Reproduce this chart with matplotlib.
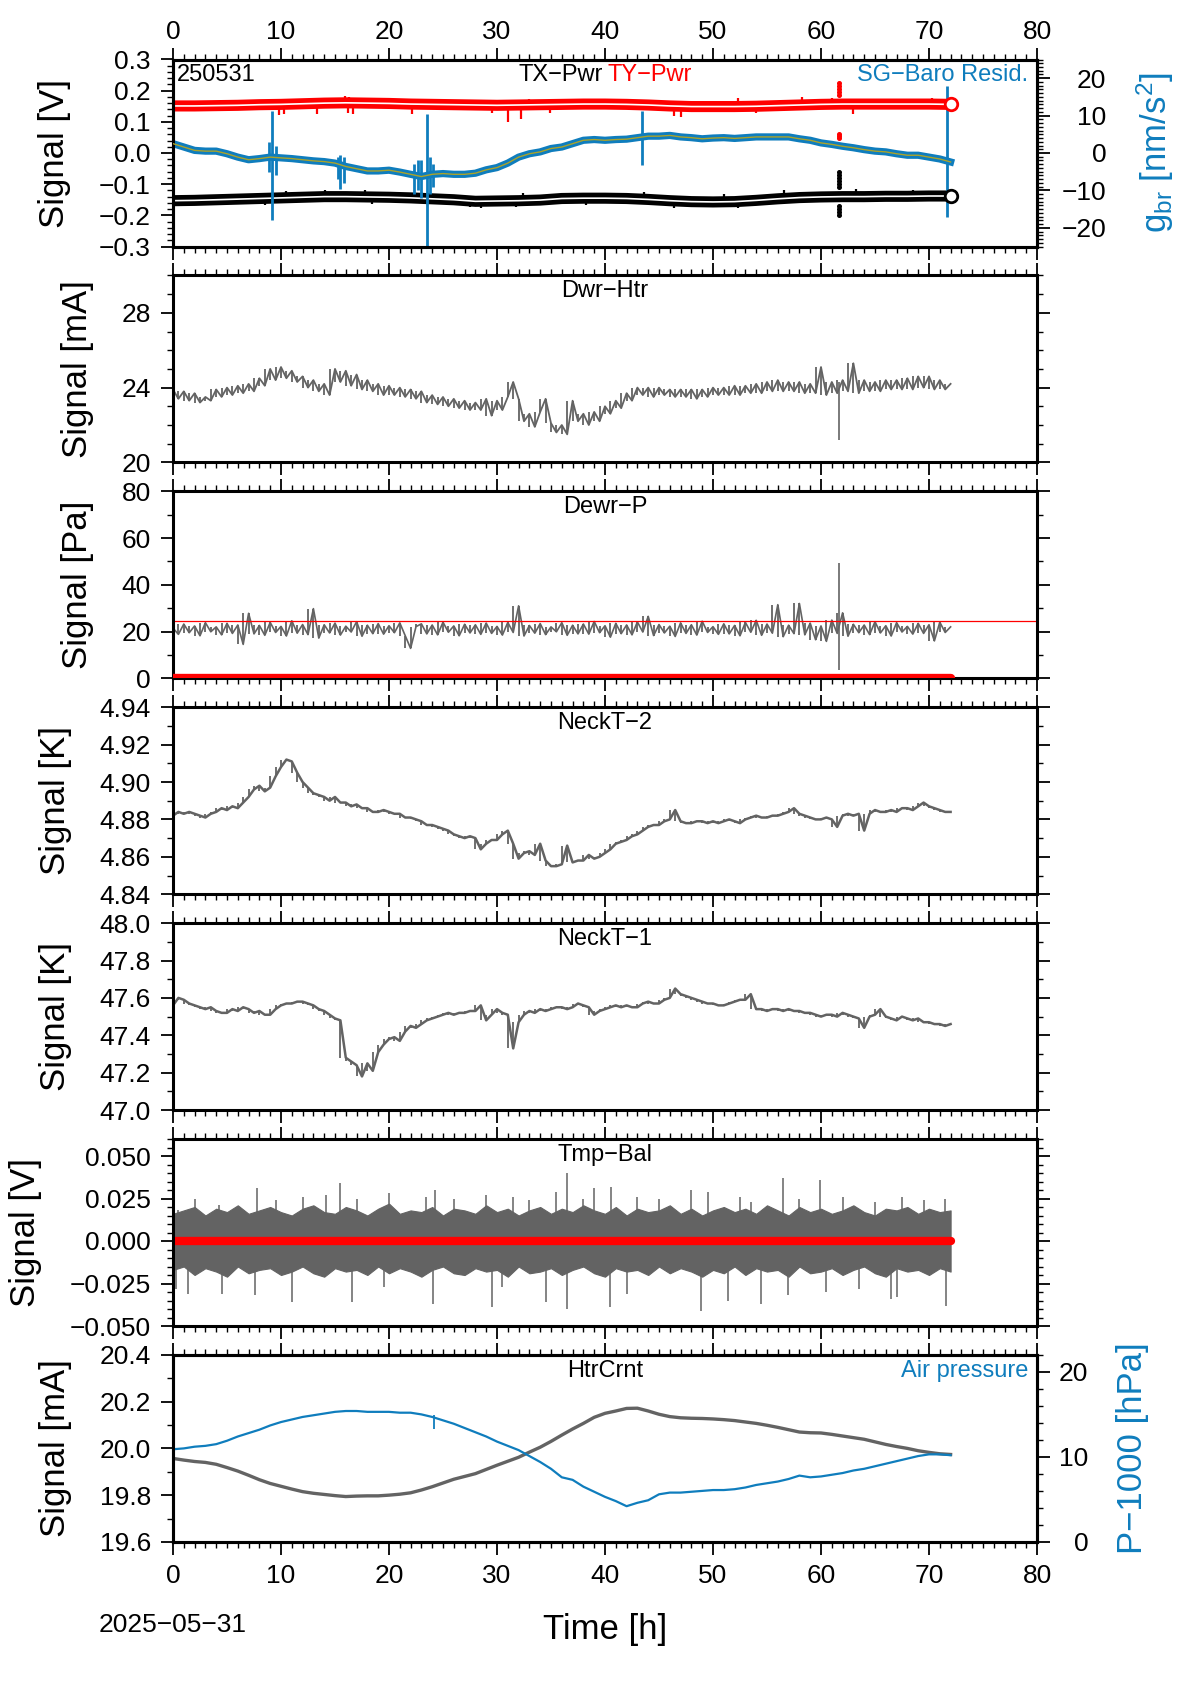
import numpy as np
import matplotlib
matplotlib.use("Agg")
import matplotlib.pyplot as plt
from matplotlib.ticker import MultipleLocator, FuncFormatter

plt.rcParams['font.family'] = ['Liberation Sans', 'DejaVu Sans']
plt.rcParams['mathtext.fontset'] = 'custom'
plt.rcParams['mathtext.rm'] = 'Liberation Sans'
plt.rcParams['mathtext.it'] = 'Liberation Sans:italic'
plt.rcParams['axes.unicode_minus'] = True

# ---------------- data ----------------
run_id = "250531"
date_label = "2025\u221205\u221231"
t_end = 72.0

# Panel 1: TX-Pwr (black), TY-Pwr (red) [V], 2 h steps
typwr = [0.151, 0.151, 0.152, 0.153, 0.155, 0.156, 0.158, 0.160, 0.161, 0.160,
         0.159, 0.157, 0.156, 0.155, 0.154, 0.153, 0.154, 0.155, 0.156, 0.157,
         0.157, 0.156, 0.154, 0.151, 0.149, 0.149, 0.149, 0.150, 0.152, 0.154,
         0.156, 0.157, 0.157, 0.157, 0.157, 0.157, 0.156]
txpwr = [-0.153, -0.152, -0.150, -0.148, -0.146, -0.144, -0.142, -0.140, -0.140, -0.141,
         -0.142, -0.144, -0.147, -0.150, -0.155, -0.154, -0.153, -0.151, -0.146, -0.145,
         -0.145, -0.146, -0.149, -0.153, -0.156, -0.157, -0.156, -0.152, -0.147, -0.143,
         -0.141, -0.140, -0.140, -0.139, -0.139, -0.138, -0.138]
red_spk_t = [9.8, 10.3, 13.3, 16.2, 16.7, 22.1, 29.5, 31.0, 32.2, 34.9, 46.4, 47.0, 54.0, 63.0,
             15.9, 16.3, 25.0, 33.0, 52.3, 58.2, 61.0, 65.4, 70.3]
red_spk_a = [0.145, 0.145, 0.145, 0.150, 0.150, 0.145, 0.145, 0.145, 0.145, 0.148, 0.142, 0.142, 0.143, 0.150,
             0.165, 0.165, 0.160, 0.160, 0.158, 0.162, 0.162, 0.162, 0.162]
red_spk_b = [0.122, 0.125, 0.124, 0.128, 0.125, 0.126, 0.128, 0.100, 0.110, 0.128, 0.118, 0.115, 0.127, 0.125,
             0.182, 0.180, 0.172, 0.174, 0.178, 0.180, 0.176, 0.174, 0.176]
blk_spk_t = [10.5, 14.1, 17.8, 32.4, 43.6, 51.0, 56.6, 63.2, 68.5,
             8.5, 18.4, 27.5, 28.5, 31.8, 38.2, 46.4, 52.3]
blk_spk_a = [-0.140, -0.138, -0.138, -0.148, -0.142, -0.150, -0.140, -0.135, -0.135,
             -0.150, -0.148, -0.155, -0.158, -0.158, -0.150, -0.157, -0.160]
blk_spk_b = [-0.122, -0.118, -0.120, -0.128, -0.125, -0.130, -0.118, -0.115, -0.118,
             -0.168, -0.165, -0.172, -0.175, -0.172, -0.168, -0.176, -0.178]
dot_t = 61.7
red_dots = [0.185, 0.195, 0.205, 0.215, 0.225, 0.048, 0.055, 0.062]
blk_dots = [-0.06, -0.07, -0.08, -0.09, -0.10, -0.11, -0.17, -0.18, -0.19, -0.20]

# SG-Baro residual [nm/s^2], hourly
sg_resid = [2.5, 1.6, 0.7, 0.5, 0.5, -0.2, -1.1, -1.8, -1.5, -1.1,
            -1.3, -1.5, -1.8, -2.1, -2.3, -2.7, -3.6, -4.2, -4.8, -4.8,
            -4.6, -5.1, -5.7, -6.3, -5.7, -5.5, -5.7, -5.7, -5.4, -4.5,
            -3.9, -2.7, -1.1, -0.2, 0.3, 1.2, 1.6, 2.5, 3.4, 3.6,
            3.4, 3.6, 3.7, 4.1, 4.5, 4.5, 4.7, 4.3, 4.1, 3.8,
            4.0, 4.1, 3.9, 4.1, 4.3, 4.3, 4.3, 4.3, 3.8, 3.4,
            2.7, 2.3, 1.8, 1.4, 0.9, 0.5, 0.3, -0.2, -0.6, -0.6,
            -1.1, -1.6, -2.4]
burst_t = [8.9, 9.2, 9.5, 15.3, 15.5, 15.8, 22.3, 22.7, 23.0, 23.5, 23.8, 24.1, 43.4, 71.7]
burst_lo = [-5, -17.9, -6, -7, -9.5, -8, -11, -10, -12, -26, -11, -9, -3.3, -17]
burst_hi = [3, 11.3, 2, -1, -0.5, -1, -3, -2, -2, 10.5, -1, -3, 11.3, 18]

# Panel 2: Dwr-Htr [mA], 0.5 h steps
dwr_htr = [23.9, 23.4, 23.8, 23.3, 23.7, 23.2, 23.5, 23.3, 23.9, 23.5,
           24.0, 23.6, 24.1, 23.7, 24.2, 23.8, 24.5, 24.1, 25.0, 24.4,
           25.1, 24.5, 24.9, 24.3, 24.6, 24.0, 24.4, 23.8, 24.2, 23.6,
           25.0, 24.3, 24.9, 24.1, 24.7, 23.9, 24.4, 23.8, 24.2, 23.6,
           24.1, 23.6, 24.0, 23.5, 23.9, 23.4, 23.8, 23.2, 23.6, 23.1,
           23.5, 23.0, 23.4, 22.9, 23.3, 22.8, 23.2, 22.8, 23.4, 22.5,
           23.3, 22.8, 23.5, 24.3, 23.4, 22.2, 22.6, 21.9, 22.7, 23.4,
           22.1, 21.6, 22.0, 21.5, 23.3, 22.2, 22.6, 22.0, 22.7, 22.2,
           23.0, 22.6, 23.3, 22.9, 23.7, 23.3, 24.0, 23.6, 24.0, 23.5,
           24.0, 23.6, 23.9, 23.5, 23.9, 23.5, 23.9, 23.4, 23.9, 23.5,
           24.0, 23.6, 24.0, 23.6, 24.1, 23.6, 24.1, 23.7, 24.2, 23.7,
           24.3, 23.8, 24.4, 23.8, 24.3, 23.8, 24.3, 23.7, 24.2, 23.7,
           25.1, 23.6, 24.3, 23.7, 24.4, 23.8, 25.3, 23.7, 24.4, 23.8,
           24.3, 23.8, 24.4, 23.9, 24.4, 23.9, 24.5, 23.9, 24.6, 24.0,
           24.6, 23.9, 24.4, 23.9, 24.2]
dwr_spk_t, dwr_spk_lo, dwr_spk_hi = [61.7], [21.2], [24.3]

# Panel 3: Dewr-P [Pa], 0.5 h steps
dewr_p = [21.5, 18.8, 23.2, 19.5, 22.4, 18.2, 23.8, 19.9, 22.0, 18.6,
          23.5, 19.2, 22.8, 14.5, 27.8, 19.0, 22.6, 18.4, 23.9, 19.6,
          22.2, 18.1, 24.6, 19.3, 23.0, 18.7, 29.8, 17.2, 22.9, 19.4,
          23.6, 18.5, 22.3, 19.8, 24.2, 18.0, 22.7, 19.1, 23.4, 18.9,
          22.5, 19.5, 23.7, 18.3, 12.8, 22.1, 23.3, 19.0, 22.8, 18.6,
          24.0, 19.7, 22.4, 18.2, 23.1, 19.4, 22.9, 18.8, 23.6, 19.2,
          22.2, 18.5, 23.9, 19.6, 31.0, 18.1, 22.6, 19.3, 23.4, 18.7,
          22.0, 19.9, 23.8, 18.4, 22.7, 19.0, 23.2, 18.9, 24.3, 19.5,
          22.5, 17.6, 23.5, 19.1, 22.8, 18.6, 24.1, 19.8, 26.5, 18.3,
          23.0, 19.4, 22.3, 17.9, 23.7, 19.2, 22.9, 18.5, 24.4, 19.6,
          22.1, 18.8, 23.3, 19.0, 22.6, 18.2, 23.9, 19.7, 24.8, 18.4,
          23.2, 19.3, 31.5, 17.8, 22.7, 19.1, 32.0, 18.6, 23.6, 16.5,
          22.4, 15.8, 24.9, 19.2, 28.0, 18.0, 23.1, 19.5, 22.8, 18.7,
          24.2, 19.4, 22.5, 18.1, 23.8, 19.8, 22.2, 18.9, 23.5, 19.2,
          22.9, 16.0, 24.0, 19.6, 22.0]
dewr_spk_t, dewr_spk_lo, dewr_spk_hi = [61.7], [3.5], [49.5]
dewr_limit = 24.3
dewr_ref = 0.0

# Panel 4: NeckT-2 [K], 0.5 h steps
neck_t2 = [4.882, 4.884, 4.883, 4.884, 4.883, 4.882, 4.881, 4.883, 4.884, 4.886,
           4.885, 4.887, 4.886, 4.889, 4.892, 4.896, 4.898, 4.895, 4.897, 4.903,
           4.908, 4.912, 4.911, 4.905, 4.900, 4.897, 4.894, 4.893, 4.892, 4.890,
           4.892, 4.889, 4.889, 4.887, 4.888, 4.886, 4.886, 4.884, 4.884, 4.885,
           4.884, 4.883, 4.883, 4.881, 4.881, 4.880, 4.879, 4.877, 4.877, 4.876,
           4.875, 4.874, 4.872, 4.871, 4.870, 4.871, 4.870, 4.864, 4.867, 4.869,
           4.869, 4.872, 4.874, 4.867, 4.859, 4.862, 4.863, 4.861, 4.867, 4.858,
           4.855, 4.855, 4.856, 4.866, 4.857, 4.858, 4.858, 4.861, 4.859, 4.860,
           4.862, 4.864, 4.867, 4.868, 4.869, 4.871, 4.872, 4.874, 4.876, 4.877,
           4.877, 4.879, 4.880, 4.885, 4.879, 4.878, 4.878, 4.879, 4.879, 4.878,
           4.879, 4.878, 4.879, 4.880, 4.879, 4.878, 4.880, 4.881, 4.882, 4.881,
           4.881, 4.882, 4.882, 4.883, 4.884, 4.886, 4.883, 4.882, 4.881, 4.880,
           4.880, 4.881, 4.880, 4.876, 4.882, 4.883, 4.882, 4.883, 4.874, 4.883,
           4.885, 4.884, 4.884, 4.885, 4.884, 4.886, 4.886, 4.885, 4.887, 4.889,
           4.887, 4.886, 4.885, 4.884, 4.884]

# Panel 5: NeckT-1 [K], 0.5 h steps
neck_t1 = [47.56, 47.60, 47.59, 47.57, 47.56, 47.55, 47.54, 47.55, 47.53, 47.52,
           47.52, 47.54, 47.53, 47.55, 47.54, 47.52, 47.53, 47.51, 47.51, 47.54,
           47.56, 47.57, 47.57, 47.58, 47.58, 47.57, 47.56, 47.54, 47.53, 47.51,
           47.49, 47.48, 47.28, 47.26, 47.24, 47.18, 47.25, 47.21, 47.31, 47.35,
           47.38, 47.39, 47.37, 47.42, 47.45, 47.44, 47.46, 47.48, 47.49, 47.50,
           47.51, 47.52, 47.51, 47.52, 47.52, 47.53, 47.53, 47.56, 47.48, 47.51,
           47.54, 47.52, 47.51, 47.33, 47.47, 47.51, 47.53, 47.52, 47.54, 47.53,
           47.54, 47.55, 47.55, 47.54, 47.55, 47.57, 47.56, 47.55, 47.51, 47.53,
           47.54, 47.55, 47.56, 47.55, 47.56, 47.55, 47.55, 47.57, 47.58, 47.57,
           47.57, 47.59, 47.60, 47.65, 47.62, 47.61, 47.60, 47.59, 47.58, 47.57,
           47.57, 47.56, 47.56, 47.57, 47.58, 47.59, 47.59, 47.62, 47.54, 47.54,
           47.53, 47.54, 47.54, 47.53, 47.54, 47.53, 47.53, 47.52, 47.52, 47.51,
           47.50, 47.51, 47.51, 47.50, 47.52, 47.51, 47.50, 47.49, 47.44, 47.50,
           47.51, 47.54, 47.50, 47.49, 47.48, 47.50, 47.49, 47.48, 47.49, 47.47,
           47.47, 47.46, 47.46, 47.45, 47.46]

# Panel 6: Tmp-Bal [V], hourly noise envelope + spikes
tmp_hi = [0.016, 0.018, 0.020, 0.015, 0.019, 0.017, 0.021, 0.016, 0.018, 0.020,
          0.017, 0.015, 0.019, 0.021, 0.017, 0.016, 0.020, 0.018, 0.015, 0.019,
          0.022, 0.016, 0.018, 0.017, 0.020, 0.015, 0.019, 0.018, 0.016, 0.021,
          0.017, 0.019, 0.015, 0.018, 0.020, 0.016, 0.019, 0.017, 0.021, 0.018,
          0.016, 0.020, 0.015, 0.019, 0.017, 0.018, 0.021, 0.016, 0.019, 0.015,
          0.018, 0.020, 0.017, 0.019, 0.016, 0.021, 0.018, 0.015, 0.020, 0.017,
          0.019, 0.016, 0.018, 0.021, 0.017, 0.015, 0.019, 0.018, 0.020, 0.016,
          0.019, 0.017, 0.018]
tmp_lo = [-0.017, -0.015, -0.020, -0.016, -0.018, -0.021, -0.015, -0.019, -0.017, -0.016,
          -0.020, -0.018, -0.015, -0.019, -0.021, -0.016, -0.018, -0.017, -0.020, -0.015,
          -0.019, -0.016, -0.018, -0.021, -0.017, -0.015, -0.019, -0.020, -0.016, -0.018,
          -0.017, -0.021, -0.015, -0.019, -0.018, -0.016, -0.020, -0.017, -0.015, -0.019,
          -0.021, -0.016, -0.018, -0.017, -0.020, -0.015, -0.019, -0.016, -0.018, -0.021,
          -0.017, -0.019, -0.015, -0.020, -0.016, -0.018, -0.017, -0.021, -0.015, -0.019,
          -0.018, -0.016, -0.020, -0.017, -0.015, -0.019, -0.021, -0.016, -0.018, -0.017,
          -0.020, -0.016, -0.018]
tmp_spk_t = [0.5, 2.0, 4.3, 7.8, 9.5, 12.0, 14.2, 15.5, 17.0, 20.0,
             23.4, 24.3, 26.0, 29.0, 31.5, 33.0, 35.5, 36.5, 38.0, 39.0,
             40.6, 43.0, 45.0, 48.0, 49.5, 52.5, 53.5, 56.5, 58.0, 59.9,
             62.0, 65.0, 67.5, 69.5, 71.5,
             0.3, 1.4, 4.5, 7.6, 11.0, 16.6, 19.5, 24.1, 29.5, 30.5,
             34.5, 36.5, 40.5, 42.0, 48.9, 51.4, 54.4, 56.9, 60.5, 63.5,
             66.5, 67.0, 71.6]
tmp_spk_v = [0.018, 0.025, 0.021, 0.031, 0.024, 0.026, 0.027, 0.034, 0.025, 0.028,
             0.026, 0.030, 0.025, 0.027, 0.026, 0.024, 0.029, 0.040, 0.025, 0.031,
             0.032, 0.026, 0.025, 0.030, 0.029, 0.026, 0.023, 0.037, 0.025, 0.036,
             0.026, 0.023, 0.026, 0.024, 0.025,
             -0.028, -0.031, -0.031, -0.032, -0.036, -0.036, -0.027, -0.037, -0.039, -0.027,
             -0.036, -0.040, -0.039, -0.031, -0.041, -0.035, -0.037, -0.032, -0.030, -0.028,
             -0.034, -0.033, -0.038]
tmp_ref = 0.0

# Panel 7: HtrCrnt [mA] and air pressure - 1000 [hPa], hourly
htr_crnt = [19.957, 19.950, 19.944, 19.940, 19.932, 19.918, 19.903, 19.885, 19.866, 19.850,
            19.838, 19.826, 19.815, 19.808, 19.803, 19.798, 19.794, 19.796, 19.797, 19.797,
            19.800, 19.804, 19.810, 19.822, 19.836, 19.852, 19.868, 19.880, 19.892, 19.910,
            19.928, 19.945, 19.962, 19.984, 20.005, 20.030, 20.057, 20.083, 20.107, 20.133,
            20.150, 20.160, 20.171, 20.172, 20.160, 20.146, 20.136, 20.131, 20.129, 20.128,
            20.126, 20.123, 20.119, 20.113, 20.107, 20.099, 20.090, 20.080, 20.070, 20.067,
            20.066, 20.060, 20.053, 20.046, 20.039, 20.028, 20.017, 20.008, 20.000, 19.990,
            19.983, 19.977, 19.974]
air_p = [10.9, 11.0, 11.2, 11.3, 11.5, 11.9, 12.4, 12.8, 13.2, 13.7,
         14.1, 14.4, 14.7, 14.9, 15.1, 15.3, 15.4, 15.4, 15.3, 15.3,
         15.3, 15.2, 15.2, 15.0, 14.7, 14.3, 13.9, 13.4, 12.9, 12.4,
         11.8, 11.3, 10.8, 10.1, 9.4, 8.6, 7.6, 7.3, 6.5, 5.9,
         5.3, 4.8, 4.2, 4.6, 4.9, 5.6, 5.8, 5.8, 5.9, 6.0,
         6.1, 6.1, 6.2, 6.4, 6.7, 6.9, 7.1, 7.4, 7.8, 7.6,
         7.7, 7.9, 8.1, 8.4, 8.6, 8.9, 9.2, 9.5, 9.8, 10.1,
         10.3, 10.3, 10.2]
air_spk_t, air_spk_lo, air_spk_hi = [24.2], [13.3], [14.9]

# ---------------- styling ----------------
BLUE = '#0f7dbd'
GRAY = '#636363'
OLIVE = '#aba32a'
RED = '#ff0000'
TICK_FS = 19
LAB_FS = 25
ANN_FS = 17

FW, FH = 1190, 1684
fig = plt.figure(figsize=(FW / 100, FH / 100), dpi=100)
LEFT, RIGHT = 173, 1037
TOP0, STEP, HGT = 59.5, 215.9, 187.0


def tm(vals):
    return np.linspace(0, t_end, len(vals))


def noisy(ax, vals, color, lw, stroke_lw):
    v = np.asarray(vals, dtype=float)
    t = tm(v)
    ax.vlines(t[:-1], v[:-1], v[1:], color=color, lw=stroke_lw)
    ax.plot(t, v, color=color, lw=lw)


def fmt(dec):
    def f(v, pos):
        s = f'{v:.{dec}f}'
        if float(s) == 0:
            s = f'{0:.{dec}f}'
        return s.replace('-', '\u2212')
    return FuncFormatter(f)


def panel(i, ylim, major, minor, dec, ylabel, right_ticks=True):
    top = TOP0 + STEP * i
    ax = fig.add_axes([LEFT / FW, 1 - (top + HGT) / FH, (RIGHT - LEFT) / FW, HGT / FH])
    ax.set_xlim(0, 80)
    ax.set_ylim(*ylim)
    ax.xaxis.set_major_locator(MultipleLocator(10))
    ax.xaxis.set_minor_locator(MultipleLocator(1))
    ax.xaxis.set_major_formatter(fmt(0))
    ax.yaxis.set_major_locator(MultipleLocator(major))
    ax.yaxis.set_minor_locator(MultipleLocator(minor))
    ax.yaxis.set_major_formatter(fmt(dec))
    ax.tick_params(which='major', direction='out', length=9, width=1.3, labelsize=TICK_FS)
    ax.tick_params(which='minor', direction='out', length=4.5, width=1.0)
    ax.tick_params(axis='x', which='both', top=True, bottom=True,
                   labeltop=(i == 0), labelbottom=(i == 6))
    ax.tick_params(axis='x', which='major', pad=(2 if i == 0 else 7))
    ax.tick_params(axis='y', which='both', left=True, right=right_ticks, labelright=False)
    ax.tick_params(axis='y', which='major', pad=7)
    for s in ax.spines.values():
        s.set_linewidth(2.2)
        s.set_zorder(5)
    ax.set_ylabel(ylabel, fontsize=LAB_FS, labelpad=20)
    return ax


def right_axis(ax, ylim, major, minor, label, pad):
    ax2 = ax.twinx()
    ax2.set_ylim(*ylim)
    ax2.yaxis.set_major_locator(MultipleLocator(major))
    ax2.yaxis.set_minor_locator(MultipleLocator(minor))
    ax2.yaxis.set_major_formatter(fmt(0))
    ax2.tick_params(which='major', direction='out', length=9, width=1.3, labelsize=TICK_FS, pad=pad)
    ax2.tick_params(which='minor', direction='out', length=4.5, width=1.0)
    for s in ax2.spines.values():
        s.set_linewidth(2.2)
    for tk in ax2.yaxis.get_major_ticks():
        tk.label2.set_horizontalalignment('right')
    ax2.set_ylabel(label, fontsize=LAB_FS, color=BLUE, labelpad=20)
    return ax2


def title(ax, txt, color='black', x=0.5, ha='center'):
    ax.text(x, 0.975, txt, transform=ax.transAxes, ha=ha, va='top',
            fontsize=ANN_FS, color=color, zorder=10)


# ---- Panel 1
ax = panel(0, (-0.3, 0.3), 0.1, 0.02, 1, 'Signal [V]', right_ticks=False)
t2 = tm(typwr)
ax.vlines(red_spk_t, red_spk_a, red_spk_b, color=RED, lw=1.6, zorder=2)
ax.vlines(blk_spk_t, blk_spk_a, blk_spk_b, color='black', lw=1.6, zorder=2)
ax.plot(t2, typwr, color=RED, lw=8, solid_capstyle='round', zorder=2)
ax.plot(t2, txpwr, color='black', lw=8, solid_capstyle='round', zorder=2)
ax.plot(t2, typwr, color='white', lw=1.2, zorder=3)
ax.plot(t2, txpwr, color='white', lw=1.2, zorder=3)
ax.plot([dot_t] * len(red_dots), red_dots, 'o', ms=2.6, color=RED, zorder=3)
ax.plot([dot_t] * len(blk_dots), blk_dots, 'o', ms=2.6, color='black', zorder=3)
ax2 = right_axis(ax, (-25, 25), 10, 1, r'$\mathregular{g_{br}}$ [nm/s$^\mathregular{2}$]', 41)
th = tm(sg_resid)
ax2.plot(th, sg_resid, color=BLUE, lw=5.2, zorder=2)
ax2.vlines(burst_t, burst_lo, burst_hi, color=BLUE, lw=2.0, zorder=2)
ax2.plot(th, sg_resid, color=OLIVE, lw=1.0, zorder=3)
ax2.plot(t2[-1] * np.ones(1), [typwr[-1] / 0.3 * 25], 'o', ms=9, mfc='white', mec=RED, mew=2, zorder=4)
ax2.plot(t2[-1] * np.ones(1), [txpwr[-1] / 0.3 * 25], 'o', ms=9, mfc='white', mec='black', mew=2, zorder=4)
ax.text(0.004, 0.975, run_id, transform=ax.transAxes, ha='left', va='top', fontsize=ANN_FS, zorder=10)
ax.text(0.497, 0.975, 'TX\u2212Pwr', transform=ax.transAxes, ha='right', va='top', fontsize=ANN_FS, zorder=10)
ax.text(0.503, 0.975, 'TY\u2212Pwr', transform=ax.transAxes, ha='left', va='top', fontsize=ANN_FS,
        color=RED, zorder=10)
title(ax2, 'SG\u2212Baro Resid.', color=BLUE, x=0.99, ha='right')

# ---- Panel 2
ax = panel(1, (20, 30), 4, 1, 0, 'Signal [mA]')
noisy(ax, dwr_htr, GRAY, 1.3, 1.3)
ax.vlines(dwr_spk_t, dwr_spk_lo, dwr_spk_hi, color=GRAY, lw=1.2)
title(ax, 'Dwr\u2212Htr')

# ---- Panel 3
ax = panel(2, (0, 80), 20, 10, 0, 'Signal [Pa]')
td = tm(dewr_p)
noisy(ax, dewr_p, GRAY, 1.2, 1.3)
ax.vlines(dewr_spk_t, dewr_spk_lo, dewr_spk_hi, color=GRAY, lw=1.2)
ax.axhline(dewr_limit, color=RED, lw=0.9)
ax.plot([td[0], td[-1]], [dewr_ref, dewr_ref], color=RED, lw=6, solid_capstyle='round', zorder=6)
title(ax, 'Dewr\u2212P')

# ---- Panel 4
ax = panel(3, (4.84, 4.94), 0.02, 0.01, 2, 'Signal [K]')
noisy(ax, neck_t2, GRAY, 1.8, 1.3)
title(ax, 'NeckT\u22122')

# ---- Panel 5
ax = panel(4, (47.0, 48.0), 0.2, 0.1, 1, 'Signal [K]')
noisy(ax, neck_t1, GRAY, 1.8, 1.3)
title(ax, 'NeckT\u22121')

# ---- Panel 6
ax = panel(5, (-0.05, 0.06), 0.025, 0.005, 3, 'Signal [V]')
tt = tm(tmp_hi)
ax.fill_between(tt, tmp_lo, tmp_hi, color=GRAY, lw=0.8)
ax.vlines(tmp_spk_t, [0.0] * len(tmp_spk_t), tmp_spk_v, color=GRAY, lw=1.1)
ax.plot([tt[0], tt[-1]], [tmp_ref, tmp_ref], color=RED, lw=6, solid_capstyle='round')
title(ax, 'Tmp\u2212Bal')

# ---- Panel 7
ax = panel(6, (19.6, 20.4), 0.2, 0.1, 1, 'Signal [mA]', right_ticks=False)
ax.plot(tm(htr_crnt), htr_crnt, color=GRAY, lw=2.4)
title(ax, 'HtrCrnt')
ax2 = right_axis(ax, (0, 22), 10, 2, 'P\u22121000 [hPa]', 28)
ax2.plot(tm(air_p), air_p, color=BLUE, lw=1.6)
ax2.vlines(air_spk_t, air_spk_lo, air_spk_hi, color=BLUE, lw=1.3)
title(ax2, 'Air pressure', color=BLUE, x=0.99, ha='right')

fig.text((LEFT + RIGHT) / 2 / FW, 1 - 1630 / FH, 'Time [h]', ha='center', va='center', fontsize=LAB_FS)
fig.text(LEFT / FW, 1 - 1625 / FH, date_label, ha='center', va='center', fontsize=TICK_FS)

fig.savefig('out.png', dpi=100)
